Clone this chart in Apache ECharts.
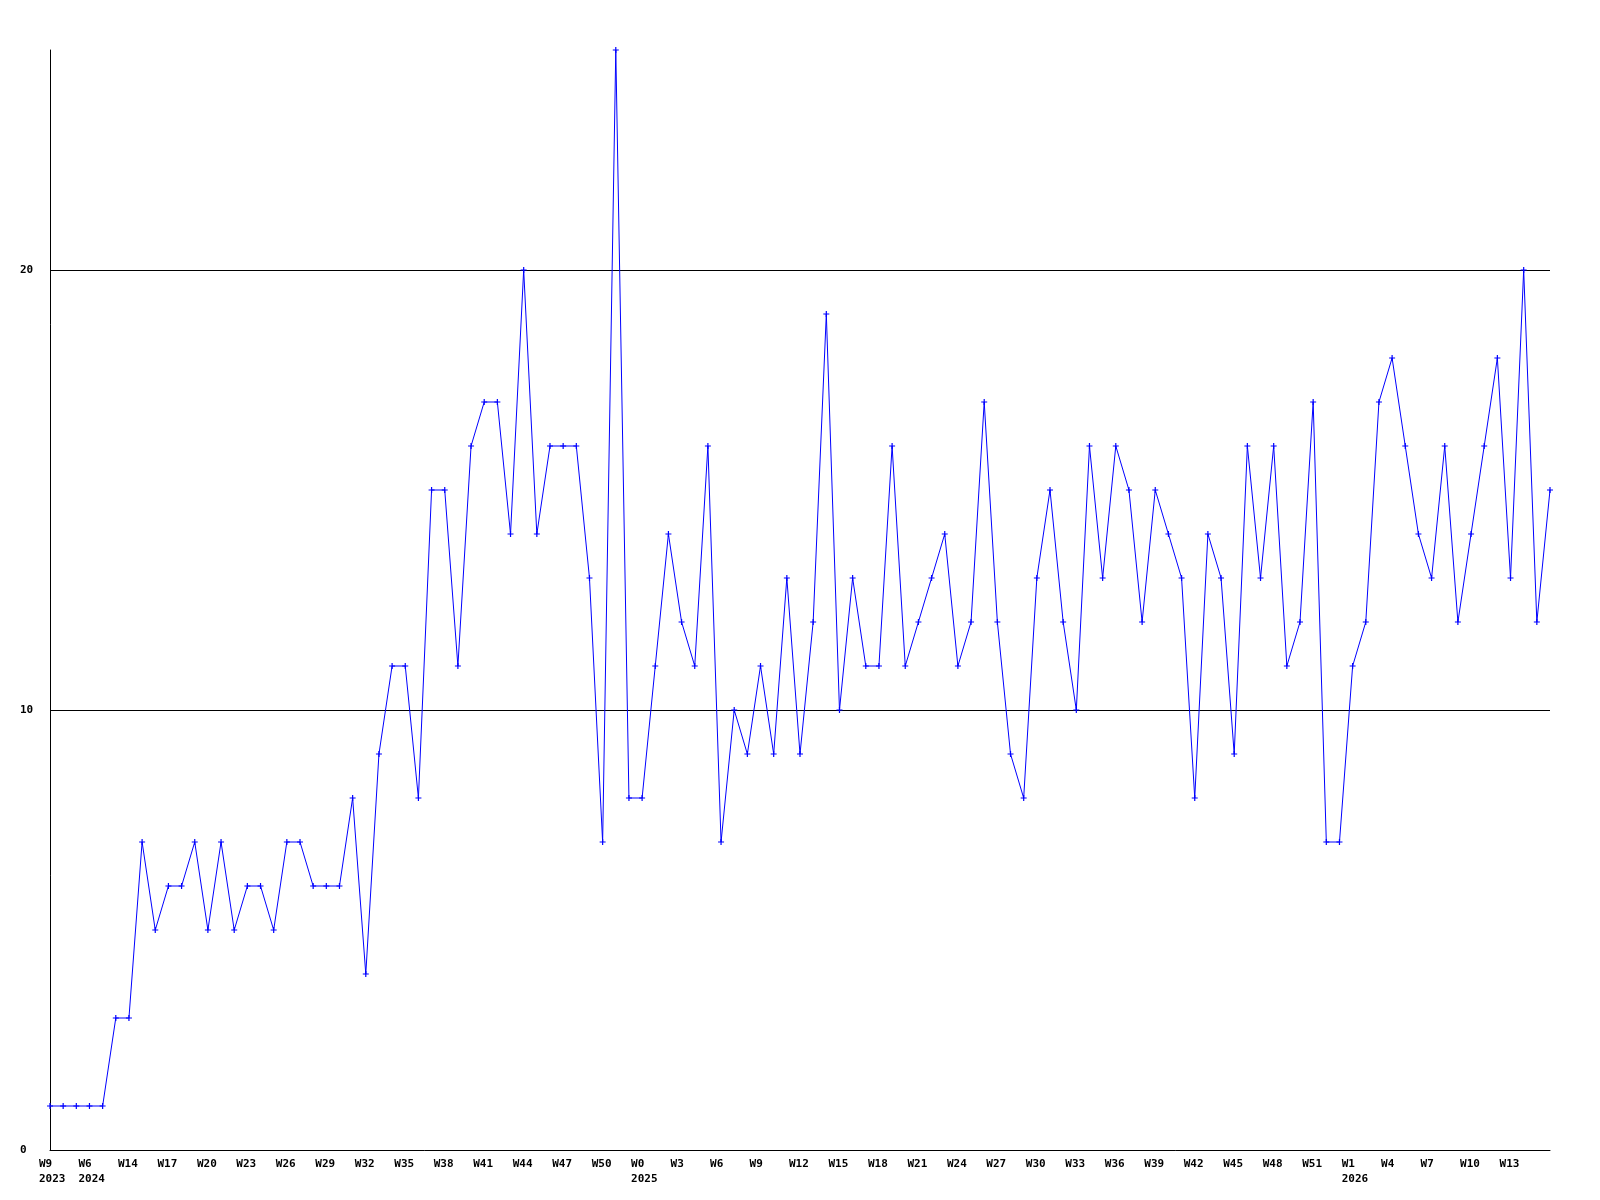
<!DOCTYPE html>
<html>
<head>
<meta charset="utf-8">
<script src="https://cdn.jsdelivr.net/npm/echarts@6/dist/echarts.min.js"></script>
<style>html,body{margin:0;padding:0;background:#fff}#c{width:1600px;height:1200px}</style>
</head>
<body>
<div id="c"></div>
<script>
const categories = [
 '2023 W9','2023 W30','2023 W45','2024 W6','2024 W9','2024 W11','2024 W14',
 '2024 W15','2024 W16','2024 W17','2024 W18','2024 W19','2024 W20','2024 W21','2024 W22','2024 W23','2024 W24',
 '2024 W25','2024 W26','2024 W27','2024 W28','2024 W29','2024 W30','2024 W31','2024 W32','2024 W33','2024 W34',
 '2024 W35','2024 W36','2024 W37','2024 W38','2024 W39','2024 W40','2024 W41','2024 W42','2024 W43','2024 W44',
 '2024 W45','2024 W46','2024 W47','2024 W48','2024 W49','2024 W50','2024 W51','2024 W52',
 '2025 W0','2025 W1','2025 W2','2025 W3','2025 W4','2025 W5','2025 W6','2025 W7','2025 W8','2025 W9',
 '2025 W10','2025 W11','2025 W12','2025 W13','2025 W14','2025 W15','2025 W16','2025 W17','2025 W18','2025 W19',
 '2025 W20','2025 W21','2025 W22','2025 W23','2025 W24','2025 W25','2025 W26','2025 W27','2025 W28','2025 W29',
 '2025 W30','2025 W31','2025 W32','2025 W33','2025 W34','2025 W35','2025 W36','2025 W37','2025 W38','2025 W39',
 '2025 W40','2025 W41','2025 W42','2025 W43','2025 W44','2025 W45','2025 W46','2025 W47','2025 W48','2025 W49',
 '2025 W50','2025 W51','2025 W52',
 '2026 W0','2026 W1','2026 W2','2026 W3','2026 W4','2026 W5','2026 W6','2026 W7','2026 W8','2026 W9',
 '2026 W10','2026 W11','2026 W12','2026 W13','2026 W14','2026 W15','2026 W16'
];
const values = [
 1,1,1,1,1,3,3,7,5,6,
 6,7,5,7,5,6,6,5,7,7,
 6,6,6,8,4,9,11,11,8,15,
 15,11,16,17,17,14,20,14,16,16,
 16,13,7,25,8,8,11,14,12,11,
 16,7,10,9,11,9,13,9,12,19,
 10,13,11,11,16,11,12,13,14,11,
 12,17,12,9,8,13,15,12,10,16,
 13,16,15,12,15,14,13,8,14,13,
 9,16,13,16,11,12,17,7,7,11,
 12,17,18,16,14,13,16,12,14,16,
 18,13,20,12,15
];
const yTicks = [0, 10, 20];
const yMax = 25;

const chart = echarts.init(document.getElementById('c'), null, {renderer: 'canvas'});
const font = '"DejaVu Sans Mono", monospace';
chart.setOption({
  animation: false,
  backgroundColor: '#ffffff',
  grid: {left: 50, right: 50, top: 50, bottom: 50, containLabel: false},
  xAxis: {
    type: 'category',
    data: categories,
    boundaryGap: false,
    axisLine: {lineStyle: {color: '#000', width: 1}},
    axisTick: {show: false},
    splitLine: {show: false},
    axisLabel: {
      interval: 2,
      showMaxLabel: false,
      margin: 7,
      color: '#000',
      fontFamily: font,
      fontWeight: 'bold',
      fontSize: 11,
      lineHeight: 15,
      align: 'center',
      rich: {
        a: {width: 22, align: 'left', fontFamily: font, fontWeight: 'bold', fontSize: 11, lineHeight: 15, color: '#000'}
      },
      formatter: function (val, idx) {
        const parts = val.split(' ');
        let showYear = idx === 0;
        if (idx >= 3) {
          const prevYear = categories[idx - 3].split(' ')[0];
          if (prevYear !== parts[0]) showYear = true;
        }
        return showYear ? '{a|' + parts[1] + '}\n{a|' + parts[0] + '}' : '{a|' + parts[1] + '}';
      }
    }
  },
  yAxis: {
    type: 'value',
    min: 0,
    max: yMax,
    interval: 10,
    axisLine: {show: true, lineStyle: {color: '#000', width: 1}},
    axisTick: {show: false},
    splitLine: {show: true, showMinLine: false, showMaxLine: false, lineStyle: {color: '#000', width: 1}},
    axisLabel: {
      showMaxLabel: false,
      align: 'left',
      margin: 30,
      color: '#000',
      fontFamily: font,
      fontWeight: 'bold',
      fontSize: 11,
      formatter: function (v) { return yTicks.indexOf(v) >= 0 ? String(v) : ''; }
    }
  },
  series: [{
    type: 'line',
    data: values,
    symbol: 'path://M2,0H3V2H5V3H3V5H2V3H0V2H2Z',
    symbolSize: 6,
    showAllSymbol: true,
    lineStyle: {color: '#0000ff', width: 1},
    itemStyle: {color: '#0000ff'},
    emphasis: {disabled: true}
  }]
});
</script>
</body>
</html>
